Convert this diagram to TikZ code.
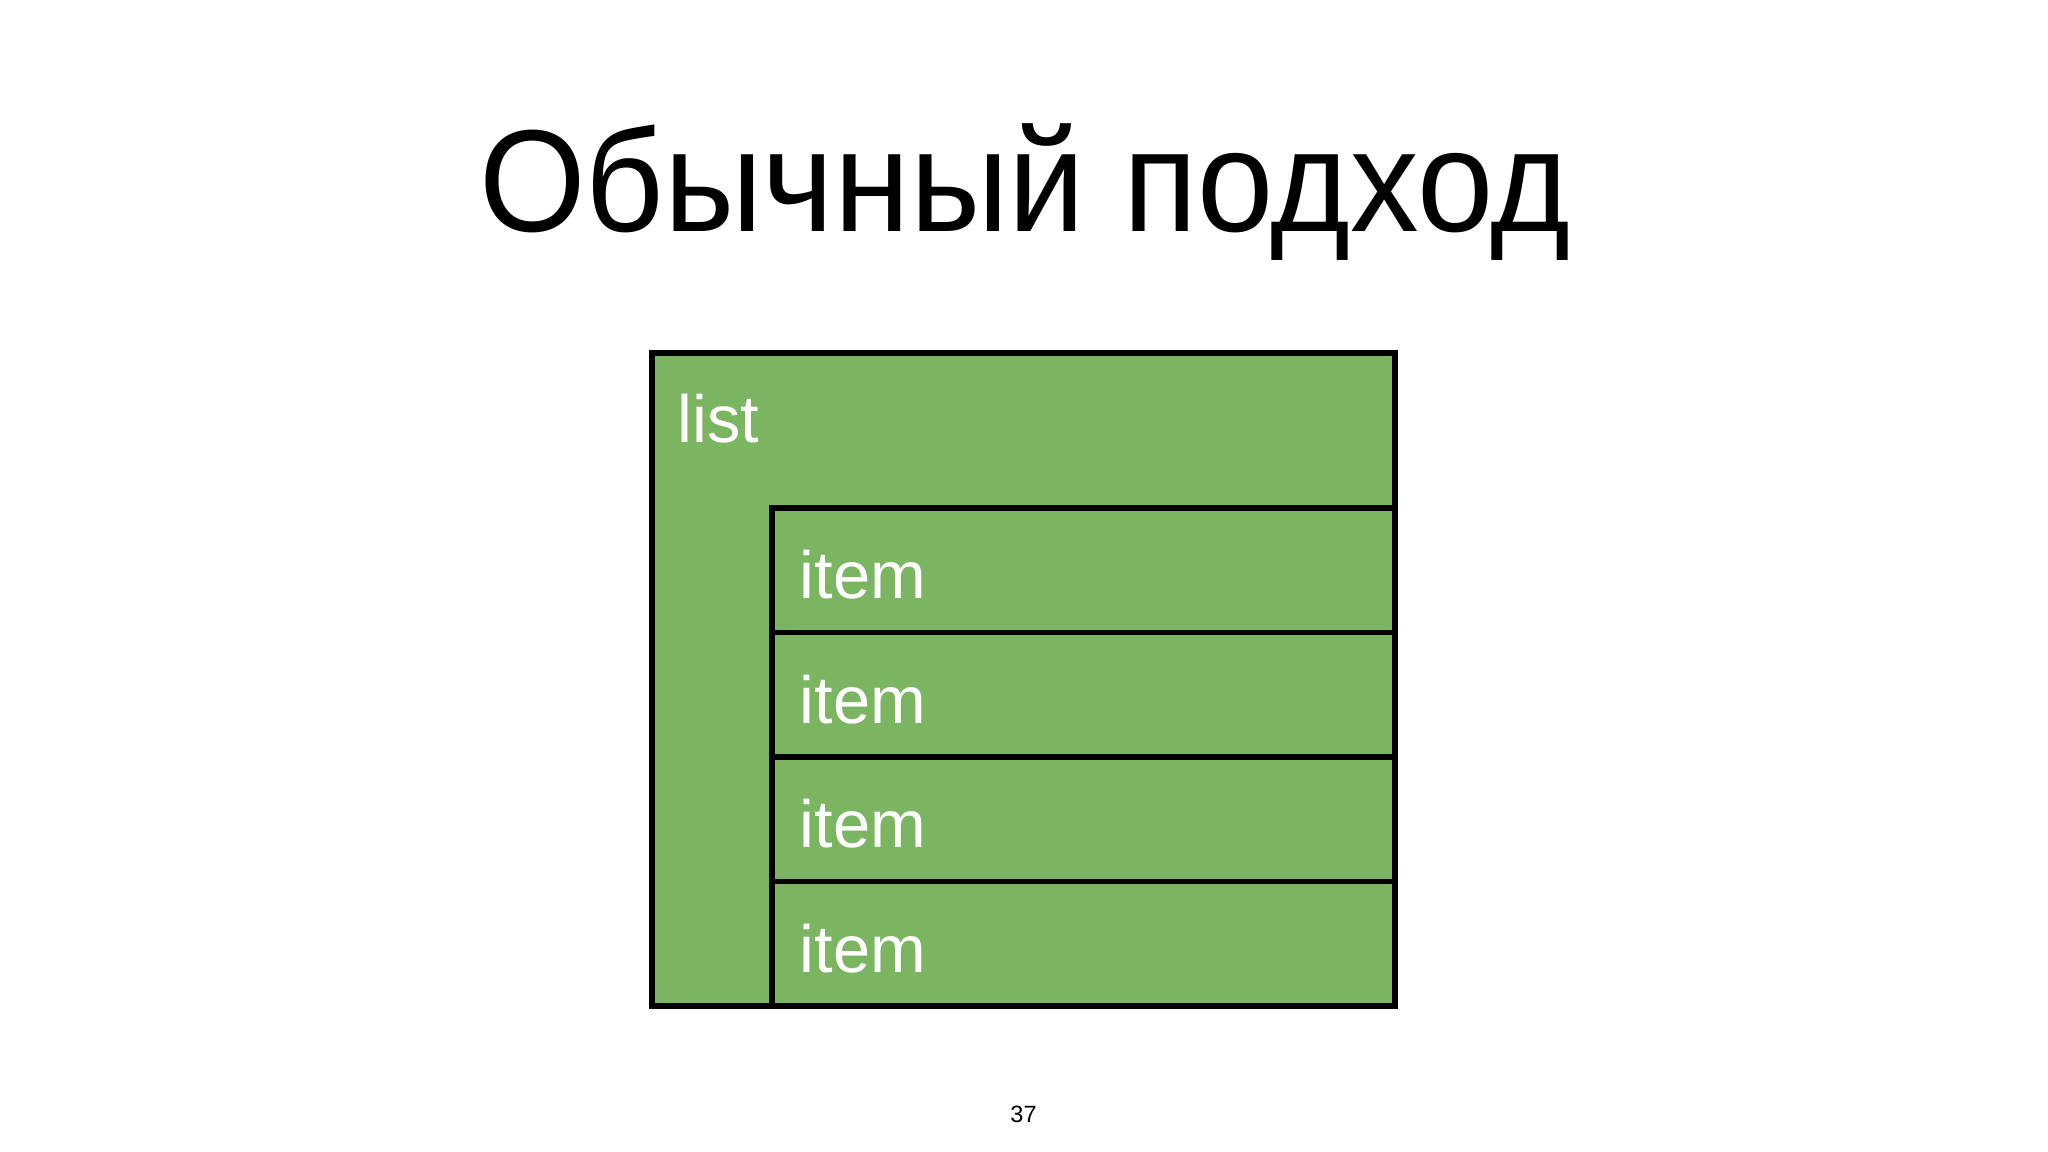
\documentclass[tikz,border=0pt]{standalone}
\usepackage{fontspec}
\setmainfont{Liberation Sans}
\definecolor{listgreen}{HTML}{7BB562}
\begin{document}
\begin{tikzpicture}
  \tikzset{
    box/.style={rectangle, draw=black, line width=1.6pt, fill=listgreen,
      inner sep=0pt, outer sep=0pt, anchor=north west},
    boxtext/.style={text=white, font=\fontsize{19}{22}\selectfont,
      inner sep=0pt, anchor=base west}
  }
  \fill[white] (0,0) rectangle (20.48,11.52);
  \useasboundingbox (0,0) rectangle (20.48,11.52);
  \node[font=\fontsize{39}{44}\selectfont, anchor=base, inner sep=0pt, yscale=1.06] (title)
    at (10.25,9.20) {Обычный подход};
  \node[box, minimum width=7.43cm, minimum height=6.53cm] (list) at (6.52,7.99) {};
  \node[boxtext] (listlabel) at ([shift={(0.25,-0.90)}]list.north west) {list};
  \foreach \i in {1,...,4} {
    \node[box, minimum width=6.23cm, minimum height=1.245cm] (item\i)
      at (7.72,{6.44-(\i-1)*1.245}) {};
    \node[boxtext] (itemlabel\i) at ([shift={(0.27,-0.91)}]item\i.north west) {item};
  }
  \node[font=\fontsize{6.7}{8}\selectfont, anchor=base, inner sep=0pt] (page)
    at (10.235,0.29) {37};
\end{tikzpicture}
\end{document}
